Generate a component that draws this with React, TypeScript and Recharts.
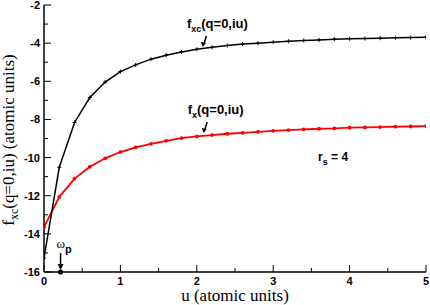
import {
  LineChart,
  Line,
  XAxis,
  YAxis,
  ReferenceDot,
} from "recharts";

const uValues = [
  0, 0.2, 0.4, 0.6, 0.8, 1.0, 1.2, 1.4, 1.6, 1.8, 2.0, 2.2, 2.4, 2.6, 2.8, 3.0,
  3.2, 3.4, 3.6, 3.8, 4.0, 4.2, 4.4, 4.6, 4.8, 5.0,
];
const fxcValues = [
  -15.26, -10.51, -8.16, -6.85, -6.04, -5.49, -5.14, -4.84, -4.63, -4.46,
  -4.32, -4.22, -4.12, -4.05, -4.0, -3.95, -3.9, -3.86, -3.83, -3.79, -3.77,
  -3.76, -3.74, -3.72, -3.71, -3.69,
];
const fxValues = [
  -13.65, -12.06, -11.1, -10.48, -10.04, -9.71, -9.47, -9.28, -9.12, -8.98,
  -8.89, -8.82, -8.75, -8.7, -8.65, -8.6, -8.56, -8.52, -8.49, -8.47, -8.43,
  -8.42, -8.4, -8.38, -8.37, -8.35,
];
const xTicks = [0, 0.5, 1, 1.5, 2, 2.5, 3, 3.5, 4, 4.5, 5];
const yTicks = [
  -16, -15, -14, -13, -12, -11, -10, -9, -8, -7, -6, -5, -4, -3, -2,
];
const omegaP = 0.2165;

const data = uValues.map((u, i) => ({ u, fxc: fxcValues[i], fx: fxValues[i] }));

const SANS = "Liberation Sans, Arial, sans-serif";
const SERIF = "Liberation Serif, Times New Roman, serif";

const BottomTick = ({ x, y, payload }: any) => {
  const major = Number.isInteger(payload.value);
  return (
    <g>
      <line x1={x} x2={x} y1={y} y2={y - (major ? 7 : 4)} stroke="#000" />
      {major && (
        <text x={x} y={y + 13} textAnchor="middle" fontFamily={SANS} fontWeight="bold" fontSize={11} fill="#000">
          {payload.value}
        </text>
      )}
    </g>
  );
};

const TopTick = ({ x, y, payload }: any) => {
  const major = Number.isInteger(payload.value);
  return <line x1={x} x2={x} y1={y} y2={y + (major ? 7 : 4)} stroke="#000" />;
};

const LeftTick = ({ x, y, payload }: any) => {
  const major = payload.value % 2 === 0;
  return (
    <g>
      <line x1={x} x2={x + (major ? 7 : 4)} y1={y} y2={y} stroke="#000" />
      {major && (
        <text x={x - 4} y={y + 4} textAnchor="end" fontFamily={SANS} fontWeight="bold" fontSize={11} fill="#000">
          {payload.value}
        </text>
      )}
    </g>
  );
};

const RightTick = ({ x, y, payload }: any) => {
  const major = payload.value % 2 === 0;
  return <line x1={x} x2={x - (major ? 7 : 4)} y1={y} y2={y} stroke="#000" />;
};

const CrossDot = ({ cx, cy }: any) => (
  <g stroke="#000" strokeWidth={1}>
    <line x1={cx - 2} x2={cx + 2} y1={cy} y2={cy} />
    <line x1={cx} x2={cx} y1={cy - 2} y2={cy + 2} />
  </g>
);

const RedDot = ({ cx, cy }: any) => <circle cx={cx} cy={cy} r={1.9} fill="#ff0000" />;

// slanted arrow pointing down-left onto a curve, label above it
const CurveNote = ({ cx, cy, sub }: any) => (
  <g>
    <line x1={cx + 3.5} y1={cy - 11} x2={cx + 1} y2={cy - 3} stroke="#000" strokeWidth={1.5} />
    <polygon points={`${cx},${cy} ${cx - 2},${cy - 5} ${cx + 3},${cy - 4}`} fill="#000" />
    <text x={cx - 16} y={cy - 19} fontFamily={SANS} fontWeight="bold" fontSize={13} fill="#000">
      f
      <tspan fontSize={9} dy={4}>{sub}</tspan>
      <tspan dy={-4}>(q=0,iu)</tspan>
    </text>
  </g>
);

const RsNote = ({ cx, cy }: any) => (
  <text x={cx - 1} y={cy + 3} fontFamily={SANS} fontWeight="bold" fontSize={12} fill="#000">
    r<tspan fontSize={9} dy={4}>s</tspan>
    <tspan dy={-4}> = 4</tspan>
  </text>
);

const OmegaNote = ({ cx, cy }: any) => (
  <g>
    <circle cx={cx} cy={cy} r={2.6} fill="#000" />
    <line x1={cx} x2={cx} y1={cy - 19} y2={cy - 7} stroke="#000" strokeWidth={1.5} />
    <polygon points={`${cx - 3},${cy - 8} ${cx + 3},${cy - 8} ${cx},${cy - 2}`} fill="#000" />
    <text x={cx - 4} y={cy - 24} fontFamily={SERIF} fontSize={13} fill="#000">
      ω
      <tspan fontFamily={SANS} fontWeight="bold" fontSize={11} dy={5}>p</tspan>
    </text>
  </g>
);

export default function App() {
  return (
    <div style={{ position: "absolute", left: 0, top: 0, width: 430, height: 305, background: "#fff" }}>
      <LineChart width={430} height={305} data={data} margin={{ top: 5, right: 4, left: 0, bottom: 0 }}>
        <XAxis
          dataKey="u"
          type="number"
          domain={[0, 5]}
          ticks={xTicks}
          interval={0}
          height={33}
          tickSize={0}
          tickMargin={0}
          tickLine={false}
          tick={<BottomTick />}
          axisLine={{ stroke: "#000", strokeWidth: 1.5 }}
          allowDataOverflow
        />
        <XAxis
          xAxisId="top"
          orientation="top"
          dataKey="u"
          type="number"
          domain={[0, 5]}
          ticks={xTicks}
          interval={0}
          height={0}
          tickSize={0}
          tickMargin={0}
          tickLine={false}
          tick={<TopTick />}
          axisLine={{ stroke: "#000", strokeWidth: 1.5 }}
        />
        <YAxis
          type="number"
          domain={[-16, -2]}
          ticks={yTicks}
          interval={0}
          width={44}
          tickSize={0}
          tickMargin={0}
          tickLine={false}
          tick={<LeftTick />}
          axisLine={{ stroke: "#000", strokeWidth: 1.5 }}
          allowDataOverflow
        />
        <YAxis
          yAxisId="right"
          orientation="right"
          type="number"
          domain={[-16, -2]}
          ticks={yTicks}
          interval={0}
          width={0}
          tickSize={0}
          tickMargin={0}
          tickLine={false}
          tick={<RightTick />}
          axisLine={{ stroke: "#000", strokeWidth: 1.5 }}
        />
        <Line
          dataKey="fx"
          stroke="#ff0000"
          strokeWidth={1.8}
          dot={<RedDot />}
          type="linear"
          isAnimationActive={false}
        />
        <Line
          dataKey="fxc"
          stroke="#000"
          strokeWidth={1.5}
          dot={<CrossDot />}
          type="linear"
          isAnimationActive={false}
        />
        <ReferenceDot x={2.08} y={-4.2} r={0} ifOverflow="visible" shape={(p: any) => <CurveNote cx={p.cx} cy={p.cy} sub="xc" />} />
        <ReferenceDot x={2.09} y={-8.71} r={0} ifOverflow="visible" shape={(p: any) => <CurveNote cx={p.cx} cy={p.cy} sub="x" />} />
        <ReferenceDot x={3.6} y={-10} r={0} ifOverflow="visible" shape={(p: any) => <RsNote cx={p.cx} cy={p.cy} />} />
        <ReferenceDot x={omegaP} y={-16} r={0} ifOverflow="visible" shape={(p: any) => <OmegaNote cx={p.cx} cy={p.cy} />} />
      </LineChart>
      <svg width={430} height={305} style={{ position: "absolute", left: 0, top: 0, pointerEvents: "none" }}>
        <text x={235} y={301} textAnchor="middle" fontFamily={SERIF} fontSize={17} fill="#000">
          u (atomic units)
        </text>
        <text transform="translate(14,140) rotate(-90)" textAnchor="middle" fontFamily={SERIF} fontSize={17} fill="#000">
          f<tspan fontSize={12} dy={4}>xc</tspan>
          <tspan dy={-4}>(q=0,iu) (atomic units)</tspan>
        </text>
      </svg>
    </div>
  );
}
